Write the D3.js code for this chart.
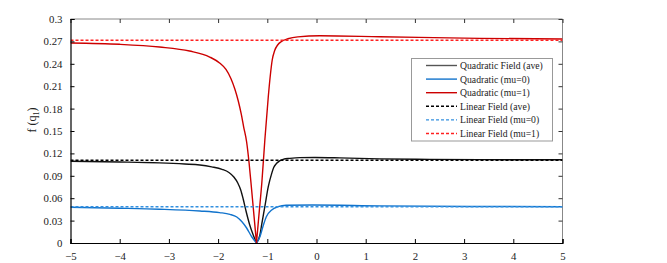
<!DOCTYPE html>
<html><head><meta charset="utf-8">
<script src="https://cdn.jsdelivr.net/npm/d3@7/dist/d3.min.js"></script>
<style>body{margin:0;background:#fff}svg text{font-family:"Liberation Serif","Times New Roman",serif}</style>
</head><body><svg id="c" width="667" height="263"></svg>
<script>
// Data
const quadAveX = [-5,-4,-3.19,-2.68,-2.37,-2.13,-1.92,-1.78,-1.68,-1.60,-1.54,-1.49,-1.43,-1.36,-1.29,-1.22,-1.15,-1.11,-1.05,-0.98,-0.91,-0.87,-0.81,-0.75,-0.68,-0.54,-0.34,-0.03,0.47,1.29,2.30,3.32,5];
const quadAveY = [0.1094,0.1085,0.1073,0.1058,0.1045,0.1020,0.0987,0.0944,0.0884,0.0804,0.0710,0.0589,0.0422,0.0248,0.0114,0,0.0107,0.0264,0.0486,0.0754,0.0933,0.1011,0.1067,0.1101,0.1121,0.1134,0.1144,0.1145,0.1140,0.1126,0.1120,0.1116,0.1114];
const quadMu0X = [-5,-4,-3.19,-2.37,-1.97,-1.76,-1.62,-1.52,-1.42,-1.32,-1.22,-1.15,-1.09,-1.02,-0.91,-0.78,-0.62,-0.08,1.29,3.32,5];
const quadMu0Y = [0.0478,0.0466,0.0453,0.0429,0.0407,0.0384,0.0348,0.0288,0.0201,0.0087,0,0.0084,0.0218,0.0352,0.0442,0.0486,0.0506,0.0509,0.0497,0.0489,0.0486];
const quadMu1X = [-5,-4,-3.19,-2.58,-2.17,-1.97,-1.84,-1.74,-1.66,-1.59,-1.53,-1.48,-1.42,-1.37,-1.32,-1.27,-1.22,-1.17,-1.11,-1.05,-0.98,-0.94,-0.90,-0.85,-0.79,-0.71,-0.58,-0.38,0.07,1.29,3.32,5];
const quadMu1Y = [0.2678,0.2661,0.2625,0.2571,0.2491,0.2411,0.2324,0.2203,0.2062,0.1902,0.1728,0.1553,0.1353,0.1071,0.0723,0.0362,0,0.0375,0.0817,0.1379,0.1959,0.2237,0.2451,0.2578,0.2652,0.2699,0.2735,0.2761,0.2775,0.2763,0.2741,0.2732];
const linAve = 0.1108, linMu0 = 0.0486, linMu1 = 0.2715;
const xTicks = [-5,-4,-3,-2,-1,0,1,2,3,4,5];
const yTicks = [0,0.03,0.06,0.09,0.12,0.15,0.18,0.21,0.24,0.27,0.3];
const legendLabels = ["Quadratic Field (ave)","Quadratic (mu=0)","Quadratic (mu=1)","Linear Field (ave)","Linear Field (mu=0)","Linear Field (mu=1)"];

const FONT = '"Liberation Serif","Times New Roman",serif';
const svg = d3.select("#c");
const L=70.5, R=562.5, T=19, B=243;
const x = d3.scaleLinear().domain([-5,5]).range([L,R]);
const y = d3.scaleLinear().domain([0,0.3]).range([B,T]);

const cBlack="#111", cBlue="#1173cc", cRed="#cc0000";
const dBlack="#000", dBlue="#3390e0", dRed="#ff2020";

svg.append("line").attr("x1",L).attr("x2",R).attr("y1",T).attr("y2",T).attr("stroke","#888").attr("stroke-width",1);
svg.append("line").attr("x1",R).attr("x2",R).attr("y1",T).attr("y2",B).attr("stroke","#888").attr("stroke-width",1);

svg.append("g").attr("transform",`translate(0,${T})`).call(d3.axisTop(x).tickValues(xTicks).tickSize(-4).tickFormat(""))
  .call(g=>{g.select(".domain").remove();g.selectAll("line").attr("stroke","#333");});
svg.append("g").attr("transform",`translate(${R},0)`).call(d3.axisRight(y).tickValues(yTicks).tickSize(-4).tickFormat(""))
  .call(g=>{g.select(".domain").remove();g.selectAll("line").attr("stroke","#333");});

// split a curve at its cusp (min) and draw both branches smoothly
const line = d3.line().x(d=>x(d[0])).y(d=>y(d[1])).curve(d3.curveMonotoneX);
function branches(xs, ys){
  const pts = d3.zip(xs, ys);
  const k = ys.indexOf(d3.min(ys));
  return line(pts.slice(0,k+1)) + line(pts.slice(k));
}
const flat = v=>line([[-5,v],[5,v]]);
const series = [
  {d:branches(quadAveX,quadAveY), color:cBlack, dash:null},
  {d:branches(quadMu0X,quadMu0Y), color:cBlue, dash:null},
  {d:branches(quadMu1X,quadMu1Y), color:cRed, dash:null},
  {d:flat(linAve), color:dBlack, dash:"3,2"},
  {d:flat(linMu0), color:dBlue, dash:"3,2"},
  {d:flat(linMu1), color:dRed, dash:"3,2"}
];
const plot = svg.append("g");
plot.append("clipPath").attr("id","clip").append("rect").attr("x",L).attr("y",T).attr("width",R-L).attr("height",B-T+1);
series.forEach(s=>{
  plot.append("path").attr("d",s.d).attr("fill","none").attr("stroke",s.color)
    .attr("stroke-width",1.4).attr("stroke-linejoin","round").attr("stroke-dasharray",s.dash).attr("clip-path","url(#clip)");
});

const xa = svg.append("g").attr("transform",`translate(0,${B})`).call(d3.axisBottom(x).tickValues(xTicks).tickSize(-4).tickPadding(9).tickFormat(d3.format("d")));
const ya = svg.append("g").attr("transform",`translate(${L},0)`).call(d3.axisLeft(y).tickValues(yTicks).tickSize(-4).tickPadding(8).tickFormat(d=>d===0?"0":(d===0.3?"0.3":d3.format(".2f")(d))));
[xa,ya].forEach(g=>{
  g.attr("font-family",FONT);
  g.select(".domain").attr("stroke","#000").attr("stroke-width",1.2);
  g.selectAll("line").attr("stroke","#000");
  g.selectAll("text").attr("font-size",10.8).attr("fill","#222").style("font-family",FONT);
});

const yl = svg.append("text").attr("transform","translate(36,120) rotate(-90)").attr("text-anchor","middle")
  .attr("font-size",12).attr("fill","#222").style("font-family",FONT);
yl.append("tspan").text("f (q");
yl.append("tspan").attr("font-size",8).attr("dy",3).text("1");
yl.append("tspan").attr("dy",-3).text(")");

const lg = svg.append("g");
lg.append("rect").attr("x",411.5).attr("y",58.5).attr("width",141).attr("height",82.5).attr("fill","#fff").attr("stroke","#999").attr("stroke-width",1);
const legendColors=[ "#555", cBlue, cRed, dBlack, dBlue, dRed];
legendLabels.forEach((t,i)=>{
  const yy = 65.5 + i*13.6;
  lg.append("line").attr("x1",426).attr("x2",457).attr("y1",yy).attr("y2",yy).attr("stroke",legendColors[i])
    .attr("stroke-width",1.4).attr("stroke-dasharray",i>=3?"3,2":null);
  lg.append("text").attr("x",460).attr("y",yy+3.5).attr("font-size",9.7).attr("fill","#222").style("font-family",FONT).text(t);
});
</script></body></html>
